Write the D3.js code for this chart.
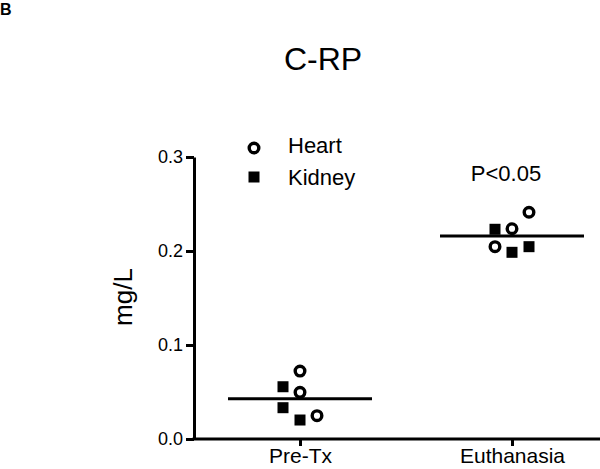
<!DOCTYPE html>
<html>
<head>
<meta charset="utf-8">
<script src="https://cdn.jsdelivr.net/npm/d3@7"></script>
<style>
  body { margin: 0; background: #fff; }
  text { font-family: Arial, "Liberation Sans", sans-serif; }
</style>
</head>
<body>
<div class="root"></div>
<script>
// Data
var groups = ["Pre-Tx", "Euthanasia"];
var yTicks = [0.0, 0.1, 0.2, 0.3];
// heart (open circles): value per point, with its jitter column (-1, 0, 1)
var heartGroup = ["Pre-Tx", "Pre-Tx", "Pre-Tx", "Euthanasia", "Euthanasia", "Euthanasia"];
var heartValues = [0.0723, 0.0497, 0.0248, 0.2412, 0.2237, 0.2046];
var heartCol = [0, 0, 1, 1, 0, -1];
// kidney (filled squares)
var kidneyGroup = ["Pre-Tx", "Pre-Tx", "Pre-Tx", "Euthanasia", "Euthanasia", "Euthanasia"];
var kidneyValues = [0.0556, 0.0333, 0.0202, 0.2231, 0.1986, 0.2046];
var kidneyCol = [-1, -1, 0, -1, 0, 1];
// group means
var means = [0.0429, 0.216];

var width = 600, height = 469;
var plot = { left: 194, right: 600, top: 157, bottom: 439 };

var svg = d3.select(".root").append("svg")
    .attr("width", width)
    .attr("height", height);

// scales
var xScale = d3.scalePoint().domain(groups).range([300, 512]);
var jitter = d3.scaleLinear().domain([-1, 1]).range([-17, 17]);
var yScale = d3.scaleLinear().domain([0, 0.3]).range([plot.bottom, plot.top]);

// panel letter
svg.append("text")
    .attr("x", 0).attr("y", 15)
    .attr("font-size", 16).attr("font-weight", 700)
    .text("B");

// title
svg.append("text")
    .attr("x", 323).attr("y", 70)
    .attr("text-anchor", "middle")
    .attr("font-size", 32)
    .text("C-RP");

// y axis
var yAxis = svg.append("g")
    .attr("transform", "translate(" + plot.left + ",0)")
    .call(d3.axisLeft(yScale).tickValues(yTicks).tickFormat(d3.format(".1f")).tickSize(8).tickPadding(3).tickSizeOuter(0));
yAxis.select(".domain").attr("stroke-width", 3);
yAxis.selectAll(".tick line").attr("stroke-width", 3);
yAxis.selectAll(".tick text").attr("font-size", 18).attr("fill", "#000")
    .attr("font-family", "Arial, 'Liberation Sans', sans-serif");

// x axis
var xAxis = svg.append("g")
    .attr("transform", "translate(0," + plot.bottom + ")")
    .call(d3.axisBottom(xScale).tickSize(7).tickPadding(2).tickSizeOuter(0));
xAxis.select(".domain").remove();
xAxis.selectAll(".tick line").attr("stroke-width", 3);
xAxis.selectAll(".tick text").attr("font-size", 21).attr("fill", "#000")
    .attr("font-family", "Arial, 'Liberation Sans', sans-serif");
svg.append("line")
    .attr("x1", plot.left - 1.5).attr("x2", plot.right)
    .attr("y1", plot.bottom).attr("y2", plot.bottom)
    .attr("stroke", "#000").attr("stroke-width", 3);

// y axis label
svg.append("text")
    .attr("transform", "translate(132,297) rotate(-90)")
    .attr("text-anchor", "middle")
    .attr("font-size", 26)
    .text("mg/L");

// mean lines
svg.selectAll(".mean").data(groups).enter().append("line")
    .attr("class", "mean")
    .attr("x1", function (d) { return xScale(d) - 72; })
    .attr("x2", function (d) { return xScale(d) + 72; })
    .attr("y1", function (d, i) { return yScale(means[i]); })
    .attr("y2", function (d, i) { return yScale(means[i]); })
    .attr("stroke", "#000").attr("stroke-width", 3);

// kidney squares
var sq = 11;
svg.selectAll(".kidney").data(kidneyValues).enter().append("rect")
    .attr("class", "kidney")
    .attr("x", function (d, i) { return xScale(kidneyGroup[i]) + jitter(kidneyCol[i]) - sq / 2; })
    .attr("y", function (d) { return yScale(d) - sq / 2; })
    .attr("width", sq).attr("height", sq)
    .attr("fill", "#000");

// heart circles
svg.selectAll(".heart").data(heartValues).enter().append("circle")
    .attr("class", "heart")
    .attr("cx", function (d, i) { return xScale(heartGroup[i]) + jitter(heartCol[i]); })
    .attr("cy", function (d) { return yScale(d); })
    .attr("r", 4.8)
    .attr("fill", "#fff")
    .attr("stroke", "#000").attr("stroke-width", 3.4);

// significance label
svg.append("text")
    .attr("x", 506).attr("y", 181)
    .attr("text-anchor", "middle")
    .attr("font-size", 22)
    .text("P<0.05");

// legend
var legend = svg.append("g");
legend.append("circle")
    .attr("cx", 254).attr("cy", 148).attr("r", 4.8)
    .attr("fill", "#fff").attr("stroke", "#000").attr("stroke-width", 3.4);
legend.append("text")
    .attr("x", 288).attr("y", 153).attr("font-size", 22).text("Heart");
legend.append("rect")
    .attr("x", 254 - sq / 2).attr("y", 177 - sq / 2).attr("width", sq).attr("height", sq)
    .attr("fill", "#000");
legend.append("text")
    .attr("x", 288).attr("y", 185).attr("font-size", 22).text("Kidney");
</script>
</body>
</html>
